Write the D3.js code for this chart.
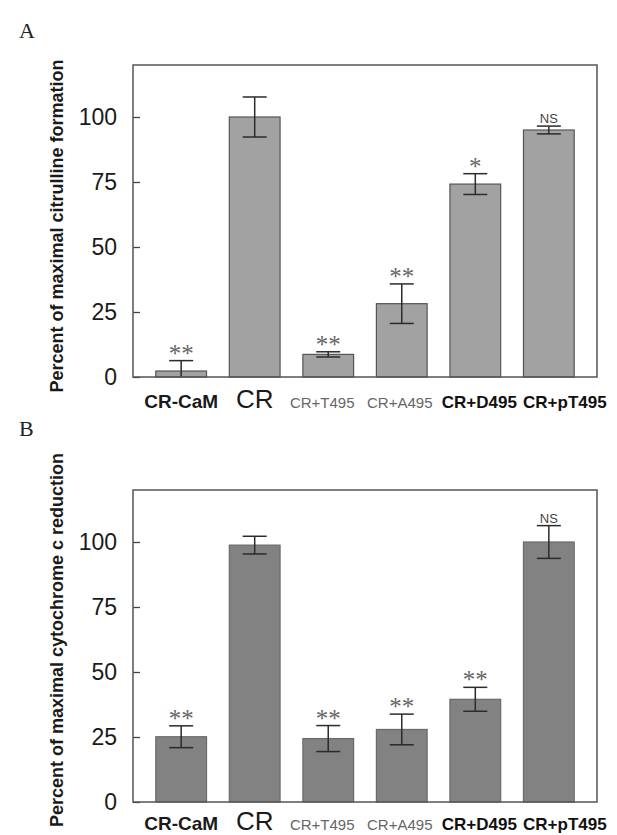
<!DOCTYPE html>
<html>
<head>
<meta charset="utf-8">
<script src="https://cdn.jsdelivr.net/npm/d3@7"></script>
<style>
  body { margin: 0; background: #fff; }
  svg { display: block; }
</style>
</head>
<body>
<div id="app"></div>
<script>
// data
var categories = ["CR-CaM", "CR", "CR+T495", "CR+A495", "CR+D495", "CR+pT495"];

var citrullineMeans  = [2.3, 100, 8.7, 28.2, 74.2, 95];
var citrullineErrors = [4, 7.7, 1, 7.6, 4, 1.5];
var citrullineSig    = ["**", "", "**", "**", "*", "NS"];

var cytochromeMeans  = [25.1, 98.8, 24.4, 27.9, 39.5, 100];
var cytochromeErrors = [4.2, 3.4, 5, 5.9, 4.6, 6.3];
var cytochromeSig    = ["**", "", "**", "**", "**", "NS"];

var yTicks = [0, 25, 50, 75, 100];

var width = 617, height = 835;

var svg = d3.select("#app").append("svg")
            .attr("width", width)
            .attr("height", height);

svg.append("rect").attr("width", width).attr("height", height).attr("fill", "#fff");

// each x label has its own look (and a little nudge) in the original
var labelStyle = {
    "CR-CaM":   {size: 19, weight: "bold",   color: "#1a1a1a", dx: 0},
    "CR":       {size: 26, weight: "normal", color: "#1a1a1a", dx: 0},
    "CR+T495":  {size: 15, weight: "normal", color: "#666",    dx: -6},
    "CR+A495":  {size: 15, weight: "normal", color: "#666",    dx: -2},
    "CR+D495":  {size: 17, weight: "bold",   color: "#111",    dx: 4},
    "CR+pT495": {size: 17, weight: "bold",   color: "#111",    dx: 16}
};

var left = 133, right = 597;

var x = d3.scaleBand()
          .domain(categories)
          .range([left, right])
          .padding(0.31);

function drawPanel(opts) {
    var y = d3.scaleLinear().domain([0, 120]).range([opts.bottom, opts.top]);
    var g = svg.append("g");

    // panel letter
    g.append("text")
        .attr("x", 19).attr("y", opts.letterY)
        .attr("font-family", "Liberation Serif, Times New Roman, serif")
        .attr("font-size", 22)
        .attr("fill", "#222")
        .text(opts.letter);

    // y axis title
    g.append("text")
        .attr("transform", "translate(63," + ((opts.top + opts.bottom) / 2 + opts.titleShift) + ") rotate(-90)")
        .attr("text-anchor", "middle")
        .attr("font-family", "Liberation Sans, Arial, sans-serif")
        .attr("font-weight", "bold")
        .attr("font-size", opts.titleSize)
        .attr("fill", "#1a1a1a")
        .text(opts.title);

    var data = categories.map(function(c, i) {
        return {cat: c, v: opts.means[i], e: opts.errors[i], sig: opts.sig[i]};
    });

    g.selectAll("rect.bar")
        .data(data)
        .enter().append("rect")
        .attr("class", "bar")
        .attr("x", function(d) { return x(d.cat); })
        .attr("width", x.bandwidth())
        .attr("y", function(d) { return y(d.v); })
        .attr("height", function(d) { return y(0) - y(d.v); })
        .attr("fill", opts.fill)
        .attr("stroke", opts.barStroke)
        .attr("stroke-width", 1.2);

    var capW = 12;
    var err = g.selectAll("g.err")
        .data(data)
        .enter().append("g")
        .attr("class", "err")
        .attr("stroke", "#2b2b2b")
        .attr("stroke-width", 1.5);

    err.append("line")
        .attr("x1", function(d) { return x(d.cat) + x.bandwidth() / 2; })
        .attr("x2", function(d) { return x(d.cat) + x.bandwidth() / 2; })
        .attr("y1", function(d) { return y(d.v + d.e); })
        .attr("y2", function(d) { return y(Math.max(0, d.v - d.e)); });

    err.append("line")
        .attr("x1", function(d) { return x(d.cat) + x.bandwidth() / 2 - capW; })
        .attr("x2", function(d) { return x(d.cat) + x.bandwidth() / 2 + capW; })
        .attr("y1", function(d) { return y(d.v + d.e); })
        .attr("y2", function(d) { return y(d.v + d.e); });

    err.filter(function(d) { return d.v - d.e >= 0; })
        .append("line")
        .attr("x1", function(d) { return x(d.cat) + x.bandwidth() / 2 - capW; })
        .attr("x2", function(d) { return x(d.cat) + x.bandwidth() / 2 + capW; })
        .attr("y1", function(d) { return y(d.v - d.e); })
        .attr("y2", function(d) { return y(d.v - d.e); });

    // significance marks
    g.selectAll("text.sig")
        .data(data.filter(function(d) { return d.sig; }))
        .enter().append("text")
        .attr("class", "sig")
        .attr("x", function(d) { return x(d.cat) + x.bandwidth() / 2; })
        .attr("y", function(d) { return y(d.v + d.e) - (d.sig == "NS" ? 3 : -1); })
        .attr("text-anchor", "middle")
        .attr("font-family", function(d) { return d.sig == "NS" ? "Liberation Sans Narrow, Liberation Sans, Arial, sans-serif" : "Liberation Serif, Times New Roman, serif"; })
        .attr("font-size", function(d) { return d.sig == "NS" ? 13 : 25; })
        .attr("fill", function(d) { return d.sig == "NS" ? "#444" : "#666"; })
        .text(function(d) { return d.sig; });

    // y axis, ticks pointing inward
    var yAxis = g.append("g")
        .attr("transform", "translate(" + left + ",0)")
        .call(d3.axisLeft(y).tickValues(yTicks).tickSizeInner(-7).tickSizeOuter(0).tickPadding(16));
    yAxis.select(".domain").remove();
    yAxis.selectAll("line").attr("stroke", "#444").attr("stroke-width", 1.3);
    yAxis.selectAll("text")
        .attr("font-family", "Liberation Sans, Arial, sans-serif")
        .attr("font-size", 23)
        .attr("fill", "#1a1a1a");

    // x axis labels
    var xAxis = g.append("g")
        .attr("transform", "translate(0," + opts.bottom + ")")
        .call(d3.axisBottom(x).tickSize(0));
    xAxis.select(".domain").remove();
    xAxis.selectAll("text")
        .attr("y", opts.labelY)
        .attr("dy", 0)
        .attr("dx", function(d) { return labelStyle[d].dx; })
        .attr("font-family", "Liberation Sans, Arial, sans-serif")
        .attr("font-size", function(d) { return labelStyle[d].size; })
        .attr("font-weight", function(d) { return labelStyle[d].weight; })
        .attr("fill", function(d) { return labelStyle[d].color; });

    // frame
    g.append("rect")
        .attr("x", left).attr("y", opts.top)
        .attr("width", right - left).attr("height", opts.bottom - opts.top)
        .attr("fill", "none")
        .attr("stroke", "#555")
        .attr("stroke-width", 1.5);
}

drawPanel({
    letter: "A", letterY: 38, top: 65, bottom: 377, titleShift: 5, titleSize: 18, labelY: 31,
    title: "Percent of maximal citrulline formation",
    means: citrullineMeans, errors: citrullineErrors, sig: citrullineSig,
    fill: "#a2a2a2", barStroke: "#555"
});

drawPanel({
    letter: "B", letterY: 436, top: 490, bottom: 802, titleShift: -6, titleSize: 18, labelY: 28,
    title: "Percent of maximal cytochrome c reduction",
    means: cytochromeMeans, errors: cytochromeErrors, sig: cytochromeSig,
    fill: "#828282", barStroke: "#6a6a6a"
});
</script>
</body>
</html>
